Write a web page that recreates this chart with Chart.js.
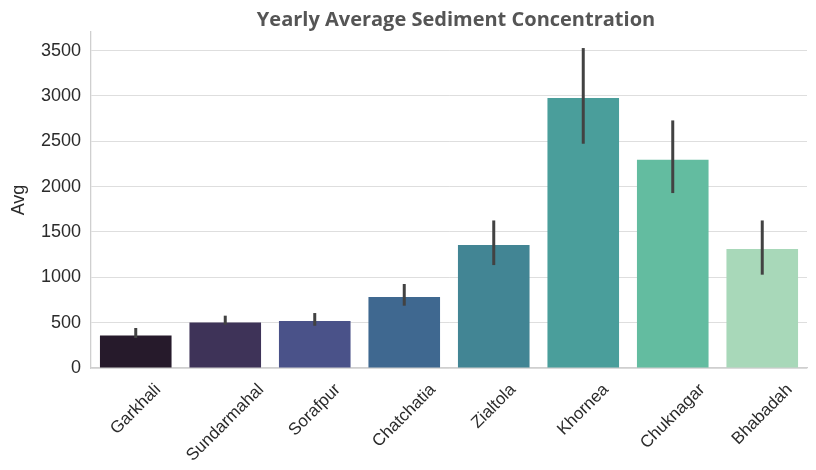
<!DOCTYPE html>
<html>
<head>
<meta charset="utf-8">
<script src="https://cdn.jsdelivr.net/npm/chart.js@4/dist/chart.umd.min.js"></script>
<style>
  html, body { margin: 0; padding: 0; background: #ffffff; }
  canvas { display: block; }
</style>
</head>
<body>
<canvas id="chart" width="816" height="470"></canvas>
<script>
// Sampling stations along the river
const stations = ['Garkhali', 'Sundarmahal', 'Sorafpur', 'Chatchatia', 'Zialtola', 'Khornea', 'Chuknagar', 'Bhabadah'];
// Yearly mean sediment concentration per station
const avgValues = [359, 503, 518, 783, 1356, 2977, 2297, 1312];
// Lower and upper ends of the confidence interval
const ciLow  = [331, 477, 466, 687, 1135, 2473, 1929, 1029];
const ciHigh = [441, 577, 606, 926, 1627, 3528, 2730, 1627];
// Y axis tick values
const yTicks = [0, 500, 1000, 1500, 2000, 2500, 3000, 3500];
// Station colours (dark purple to pale green)
const barColors = ['#261a2b', '#3e3358', '#4a5289', '#3f6890', '#428594', '#4a9e9b', '#63bca0', '#a8d8b9'];

const chartTitle = 'Yearly Average Sediment Concentration';
const yTitle = 'Avg';

// Vertical confidence-interval whiskers on each bar
const errorBars = {
  id: 'errorBars',
  afterDatasetsDraw(chart) {
    const { ctx, scales: { x, y } } = chart;
    ctx.save();
    ctx.strokeStyle = '#424242';
    ctx.lineWidth = 3;
    ctx.lineCap = 'butt';
    stations.forEach((s, i) => {
      const px = x.getPixelForValue(i);
      ctx.beginPath();
      ctx.moveTo(px, y.getPixelForValue(ciLow[i]));
      ctx.lineTo(px, y.getPixelForValue(ciHigh[i]));
      ctx.stroke();
    });
    ctx.restore();
  }
};

// Category labels, rotated 45° and centred under each bar
const rotatedLabels = {
  id: 'rotatedLabels',
  afterDraw(chart) {
    const { ctx, scales: { x }, chartArea } = chart;
    const size = 17;
    ctx.save();
    ctx.font = size + 'px "Liberation Sans", Arial, sans-serif';
    ctx.fillStyle = '#2b2b2b';
    ctx.textAlign = 'center';
    ctx.textBaseline = 'middle';
    const top = chartArea.bottom + 13;
    stations.forEach((s, i) => {
      const w = ctx.measureText(s).width;
      const boxH = (w + size) * Math.SQRT1_2;
      ctx.save();
      ctx.translate(x.getPixelForValue(i), top + boxH / 2);
      ctx.rotate(-Math.PI / 4);
      ctx.fillText(s, 0, 0);
      ctx.restore();
    });
    ctx.restore();
  }
};

// Bold grey heading above the plot
const heading = {
  id: 'heading',
  afterDraw(chart) {
    const { ctx } = chart;
    ctx.save();
    ctx.font = 'bold 20px "Open Sans", sans-serif';
    ctx.fillStyle = '#555555';
    ctx.textAlign = 'center';
    ctx.textBaseline = 'alphabetic';
    ctx.fillText(chartTitle, 456, 26);
    ctx.restore();
  }
};

new Chart(document.getElementById('chart'), {
  type: 'bar',
  data: {
    labels: stations,
    datasets: [{
      label: yTitle,
      data: avgValues,
      backgroundColor: barColors,
      borderWidth: 0,
      barPercentage: 0.8,
      categoryPercentage: 1.0
    }]
  },
  options: {
    responsive: false,
    animation: false,
    devicePixelRatio: 1,
    layout: { padding: { left: 0, right: 9, top: 32, bottom: 0 } },
    plugins: {
      legend: { display: false },
      tooltip: { enabled: false },
      title: { display: false }
    },
    scales: {
      x: {
        afterFit(scale) { scale.height = 102; },
        grid: { display: false, drawTicks: false },
        border: { display: true, color: '#cfcfcf', width: 1.3 },
        ticks: { display: false }
      },
      y: {
        min: 0,
        max: 3705,
        afterFit(scale) { scale.width = 91; },
        afterBuildTicks(scale) { scale.ticks = yTicks.map(v => ({ value: v })); },
        grid: { color: '#dedede', lineWidth: 1, drawTicks: false },
        border: { display: true, color: '#cfcfcf', width: 1.3 },
        ticks: {
          padding: 10,
          color: '#2b2b2b',
          font: { family: '"Liberation Sans", Arial, sans-serif', size: 18 },
          callback: v => String(v)
        },
        title: {
          display: true,
          text: yTitle,
          color: '#2b2b2b',
          font: { family: '"Liberation Sans", Arial, sans-serif', size: 18 },
          padding: { top: 8, bottom: 0 }
        }
      }
    }
  },
  plugins: [errorBars, rotatedLabels, heading]
});
</script>
</body>
</html>
